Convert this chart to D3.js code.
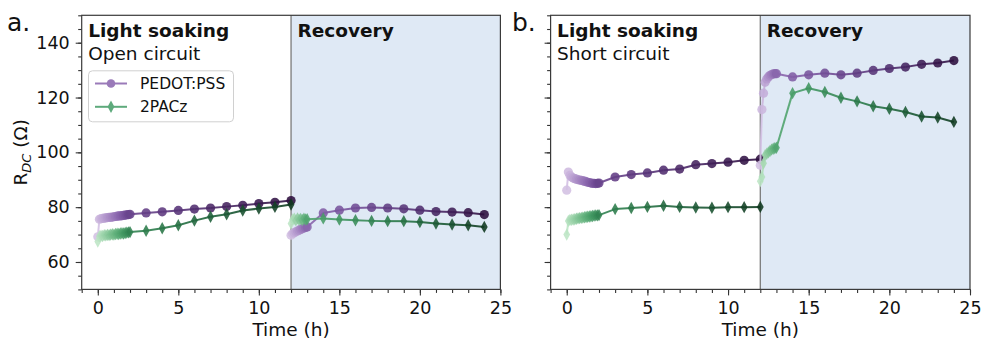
<!DOCTYPE html>
<html>
<head>
<meta charset="utf-8">
<script src="https://cdn.jsdelivr.net/npm/d3@7/dist/d3.min.js"></script>
<style>
  body { margin: 0; background: #fff; }
  text { font-family: "DejaVu Sans", sans-serif; fill: #111; }
</style>
</head>
<body>
<script>
    // time points (h): dense logging for the first hour or two, then hourly
    var tLight = [0, 0.1, 0.2, 0.3, 0.4, 0.5, 0.6, 0.7, 0.8, 0.9, 1.0, 1.1, 1.2, 1.3, 1.4, 1.5, 1.6, 1.7, 1.8, 1.9, 2.0,
                  3, 4, 5, 6, 7, 8, 9, 10, 11, 12];
    var tRecovery = [12, 12.1, 12.2, 12.3, 12.4, 12.5, 12.6, 12.7, 12.8, 12.9, 13.0,
                     14, 15, 16, 17, 18, 19, 20, 21, 22, 23, 24];

    // a. open circuit
    var pedotOpenLight = [69.2, 75.6, 75.8, 75.9, 76.0, 76.1, 76.2, 76.3, 76.3, 76.4, 76.5, 76.6, 76.7, 76.8, 76.8, 76.9, 77.0, 77.1, 77.2, 77.3, 77.4,
                          77.9, 78.3, 78.8, 79.3, 79.7, 80.2, 80.7, 81.3, 81.8, 82.4];
    var pacOpenLight = [67.5, 69.4, 69.6, 69.5, 69.8, 69.7, 69.9, 69.8, 70.0, 70.1, 70.0, 70.2, 70.3, 70.2, 70.4, 70.5, 70.4, 70.6, 70.7, 70.8, 70.9,
                        71.4, 72.3, 73.4, 75.1, 76.5, 77.4, 78.8, 79.5, 80.1, 81.0];
    var pedotOpenRec = [69.8, 70.3, 70.7, 71.0, 71.3, 71.6, 71.9, 72.1, 72.4, 72.6, 72.8,
                        77.9, 78.9, 79.7, 79.9, 79.7, 79.4, 78.9, 78.4, 78.2, 78.0, 77.3];
    var pacOpenRec = [74.0, 75.5, 75.8, 75.2, 75.9, 75.4, 75.7, 75.3, 75.8, 75.5, 75.6,
                      75.9, 75.5, 75.25, 75.0, 74.9, 74.9, 74.6, 74.0, 73.7, 73.4, 72.8];

    // b. short circuit
    var pedotShortLight = [86.2, 92.8, 91.6, 91.0, 90.6, 90.4, 90.2, 90.0, 89.9, 89.8, 89.6, 89.5, 89.3, 89.1, 89.0, 88.8, 88.7, 88.7, 88.6, 88.7, 88.8,
                           91.0, 91.9, 92.5, 93.5, 93.9, 95.5, 95.9, 96.4, 97.1, 97.5];
    var pacShortLight = [70.0, 75.0, 75.3, 75.4, 75.5, 75.6, 75.8, 75.9, 76.0, 76.1, 76.2, 76.3, 76.4, 76.5, 76.6, 76.7, 76.8, 76.9, 77.0, 77.0, 77.1,
                         79.3, 79.7, 80.1, 80.5, 80.1, 79.9, 79.8, 80.0, 80.0, 80.1];
    var pedotShortRec = [95.3, 115.6, 121.6, 125.6, 126.8, 127.5, 128.0, 128.4, 128.6, 128.7, 128.7,
                         127.5, 128.3, 128.9, 128.3, 128.9, 129.9, 130.6, 131.1, 132.1, 132.6, 133.5];
    var pacShortRec = [89.5, 91.0, 96.0, 99.0, 99.5, 100.0, 100.5, 101.0, 101.3, 101.5, 101.7,
                       121.6, 123.4, 122.0, 119.9, 118.6, 116.8, 115.9, 114.7, 113.1, 112.7, 111.1];

    var yMajor = [60, 80, 100, 120, 140];
    var xMajor = [0, 5, 10, 15, 20, 25];
    var seriesNames = ["PEDOT:PSS", "2PACz"];

    var W = 984, H = 343;
    var plotTop = 15.3, plotBottom = 289.4;

    var purpleMap = d3.interpolateRgbBasis(["#d3c0e3", "#a07fc0", "#6a4293", "#2c0e3d"]);
    var greenMap = d3.interpolateRgbBasis(["#bde5c5", "#6cba84", "#2a8750", "#0f381f"]);

    var svg = d3.select("body").append("svg")
        .attr("width", W)
        .attr("height", H);

    var diamond = "M0,-6.2L3.4,0L0,6.2L-3.4,0Z";

    function drawSeries(g, x, y, times, values, cmap, kind) {
        var n = times.length;
        var pts = times.map(function (t, i) { return {t: t, v: values[i], c: cmap(i / (n - 1))}; });

        // line segments coloured along the series
        g.selectAll(null).data(pts.slice(0, n - 1)).enter().append("line")
            .attr("x1", function (d) { return x(d.t); })
            .attr("y1", function (d) { return y(d.v); })
            .attr("x2", function (d, i) { return x(pts[i + 1].t); })
            .attr("y2", function (d, i) { return y(pts[i + 1].v); })
            .attr("stroke", function (d) { return d.c; })
            .attr("stroke-width", 2)
            .attr("stroke-opacity", 0.9);

        if (kind == "circle") {
            g.selectAll(null).data(pts).enter().append("circle")
                .attr("cx", function (d) { return x(d.t); })
                .attr("cy", function (d) { return y(d.v); })
                .attr("r", 4.6)
                .attr("fill", function (d) { return d.c; })
                .attr("fill-opacity", 0.88);
        } else {
            g.selectAll(null).data(pts).enter().append("path")
                .attr("d", diamond)
                .attr("transform", function (d) { return "translate(" + x(d.t) + "," + y(d.v) + ")"; })
                .attr("fill", function (d) { return d.c; })
                .attr("fill-opacity", 0.88);
        }
    }

    function drawPanel(opts) {
        var x = d3.scaleLinear().domain([-1, 25]).range([opts.left, opts.right]);
        var y = d3.scaleLinear().domain([50, 150]).range([plotBottom, plotTop]);
        var g = svg.append("g");

        // recovery shading
        g.append("rect")
            .attr("x", x(12)).attr("y", plotTop)
            .attr("width", x(25) - x(12)).attr("height", plotBottom - plotTop)
            .attr("fill", "#dfe9f5");
        g.append("line")
            .attr("x1", x(12)).attr("x2", x(12))
            .attr("y1", plotTop).attr("y2", plotBottom)
            .attr("stroke", "#7a7a7a").attr("stroke-width", 1.3);

        var plot = g.append("g");
        drawSeries(plot, x, y, tLight, opts.pedotLight, purpleMap, "circle");
        drawSeries(plot, x, y, tLight, opts.pacLight, greenMap, "diamond");
        drawSeries(plot, x, y, tRecovery, opts.pedotRec, purpleMap, "circle");
        drawSeries(plot, x, y, tRecovery, opts.pacRec, greenMap, "diamond");

        // axes
        var xMin = g.append("g").attr("transform", "translate(0," + plotBottom + ")")
            .call(d3.axisBottom(x).tickValues(d3.range(-1, 26, 1)).tickSize(3.5).tickFormat(""));
        var xAx = g.append("g").attr("transform", "translate(0," + plotBottom + ")")
            .call(d3.axisBottom(x).tickValues(xMajor).tickSize(6).tickPadding(5));
        var yMin = g.append("g").attr("transform", "translate(" + opts.left + ",0)")
            .call(d3.axisLeft(y).tickValues(d3.range(50, 151, 5)).tickSize(3.5).tickFormat(""));
        var yAx = g.append("g").attr("transform", "translate(" + opts.left + ",0)")
            .call(d3.axisLeft(y).tickValues(yMajor).tickSize(6).tickPadding(6)
                .tickFormat(opts.yLabels ? d3.format("d") : ""));

        [xMin, xAx, yMin, yAx].forEach(function (a) {
            a.select(".domain").remove();
            a.selectAll(".tick line").attr("stroke", "#333").attr("stroke-width", 1.1);
            a.selectAll(".tick text").attr("font-size", 17.5).attr("fill", "#111")
                .attr("font-family", "DejaVu Sans, sans-serif");
        });
        xAx.selectAll(".tick text").attr("dy", "0.8em");

        // frame
        g.append("rect")
            .attr("x", opts.left).attr("y", plotTop)
            .attr("width", opts.right - opts.left).attr("height", plotBottom - plotTop)
            .attr("fill", "none").attr("stroke", "#3a3a3a").attr("stroke-width", 1.2);

        g.append("text")
            .attr("x", (opts.left + opts.right) / 2).attr("y", 335.5)
            .attr("text-anchor", "middle").attr("font-size", 18.5)
            .text("Time (h)");

        g.append("text")
            .attr("x", opts.left + 6.5).attr("y", 36.5)
            .attr("font-size", 18.5).attr("font-weight", "bold")
            .text("Light soaking");
        g.append("text")
            .attr("x", opts.left + 6.5).attr("y", 60)
            .attr("font-size", 18.5)
            .text(opts.subtitle);
        g.append("text")
            .attr("x", x(12) + 6.5).attr("y", 36.5)
            .attr("font-size", 18.5).attr("font-weight", "bold")
            .text("Recovery");

        g.append("text")
            .attr("x", opts.letterX).attr("y", 31)
            .attr("font-size", 25)
            .text(opts.letter);

        return {x: x, y: y, g: g};
    }

    var pa = drawPanel({left: 81.7, right: 500.4, letter: "a.", letterX: 7, subtitle: "Open circuit", yLabels: true,
        pedotLight: pedotOpenLight, pacLight: pacOpenLight, pedotRec: pedotOpenRec, pacRec: pacOpenRec});
    var pb = drawPanel({left: 550.6, right: 970, letter: "b.", letterX: 512, subtitle: "Short circuit", yLabels: false,
        pedotLight: pedotShortLight, pacLight: pacShortLight, pedotRec: pedotShortRec, pacRec: pacShortRec});

    // y label
    var yl = svg.append("text")
        .attr("transform", "translate(27," + ((plotTop + plotBottom) / 2) + ") rotate(-90)")
        .attr("text-anchor", "middle").attr("font-size", 18.5);
    yl.append("tspan").text("R");
    yl.append("tspan").attr("font-size", 13).attr("font-style", "italic").attr("dy", 4).text("DC");
    yl.append("tspan").attr("dy", -4).text(" (Ω)");

    // legend
    var leg = svg.append("g");
    leg.append("rect")
        .attr("x", 88.5).attr("y", 70.8).attr("width", 145).attr("height", 51)
        .attr("rx", 4).attr("fill", "#fff").attr("fill-opacity", 0.8)
        .attr("stroke", "#d0d0d0").attr("stroke-width", 1);
    var legColors = ["#9a7ab9", "#5eaa7c"];
    seriesNames.forEach(function (name, i) {
        var yy = 83.5 + i * 23.3;
        leg.append("line")
            .attr("x1", 95).attr("x2", 127).attr("y1", yy).attr("y2", yy)
            .attr("stroke", legColors[i]).attr("stroke-width", 2);
        if (i == 0) {
            leg.append("circle").attr("cx", 111).attr("cy", yy).attr("r", 4.3).attr("fill", legColors[i]);
        } else {
            leg.append("path").attr("d", diamond).attr("transform", "translate(111," + yy + ")").attr("fill", legColors[i]);
        }
        leg.append("text")
            .attr("x", 140).attr("y", yy + 5.6)
            .attr("font-size", 15.5)
            .text(name);
    });
</script>
</body>
</html>
